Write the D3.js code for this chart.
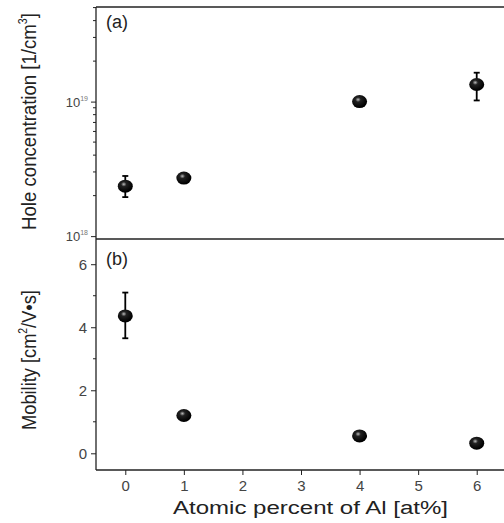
<!DOCTYPE html>
<html>
<head>
<meta charset="utf-8">
<script src="https://cdn.jsdelivr.net/npm/d3@7"></script>
<style>
  body { margin: 0; background: #fff; }
  svg { display: block; }
  text { font-family: Arial, "Liberation Sans", sans-serif; }
</style>
</head>
<body>
<div id="viz"></div>
<script>
// data
let alPercent = [0, 1, 4, 6];
let holeConc = [2.35e18, 2.7e18, 1.0e19, 1.34e19];
let holeLow = [1.95e18, 2.62e18, 0.96e19, 1.02e19];
let holeHigh = [2.8e18, 2.78e18, 1.04e19, 1.64e19];
let mobility = [4.36, 1.2, 0.55, 0.32];
let mobLow = [3.65, 1.15, 0.5, 0.28];
let mobHigh = [5.1, 1.25, 0.6, 0.36];
let xTicks = [0, 1, 2, 3, 4, 5, 6];
let mobTicks = [0, 2, 4, 6];
let holeTicks = [1e18, 1e19];

let width = 504, height = 523;
let left = 96, right = 506;
let topA = 7, bottomA = 239, bottomB = 470;

let svg = d3.select('#viz').append('svg')
    .attr('width', width)
    .attr('height', height);

let defs = svg.append('defs');
let grad = defs.append('radialGradient')
    .attr('id', 'ball')
    .attr('cx', '40%').attr('cy', '35%').attr('r', '60%');
grad.append('stop').attr('offset', '0%').attr('stop-color', '#bbb');
grad.append('stop').attr('offset', '30%').attr('stop-color', '#222');
grad.append('stop').attr('offset', '100%').attr('stop-color', '#000');

let xScale = d3.scaleLinear()
    .domain([-0.5, 6.5])
    .range([left, right]);

let yHole = d3.scaleLog()
    .domain([0.952e18, 5.05e19])
    .range([bottomA, topA]);

let yMob = d3.scaleLinear()
    .domain([-0.53, 6.8])
    .range([bottomB, bottomA]);

// frame lines
svg.append('line').attr('x1', left).attr('x2', width).attr('y1', topA).attr('y2', topA)
    .attr('stroke', '#222').attr('stroke-width', 1.3);
svg.append('line').attr('x1', left).attr('x2', width).attr('y1', bottomA).attr('y2', bottomA)
    .attr('stroke', '#222').attr('stroke-width', 1.3);

// top panel log axis
let minorHole = [];
for (let e = 18; e <= 19; e++) {
    for (let m = 2; m <= 9; m++) {
        let v = m * Math.pow(10, e);
        if (v <= 5.05e19) minorHole.push(v);
    }
}
let yHoleAxis = d3.axisLeft(yHole).tickValues(holeTicks).tickSize(5).tickFormat('');
let gA = svg.append('g')
    .attr('transform', 'translate(' + left + ',0)')
    .call(yHoleAxis);
gA.select('.domain').remove();
gA.selectAll('.tick line').attr('stroke', '#222');
svg.append('g')
    .attr('transform', 'translate(' + left + ',0)')
    .selectAll('line').data(minorHole).enter()
    .append('line')
    .attr('x1', -3).attr('x2', 0)
    .attr('y1', d => yHole(d)).attr('y2', d => yHole(d))
    .attr('stroke', '#222');

let holeLabels = svg.append('g');
holeTicks.forEach((v) => {
    let t = holeLabels.append('text')
        .attr('x', left - 8)
        .attr('y', yHole(v) + 5)
        .attr('text-anchor', 'end')
        .attr('fill', '#444')
        .attr('font-size', 13);
    t.append('tspan').text('10');
    t.append('tspan').attr('dy', -6).attr('font-size', 7).attr('fill', '#777').text(Math.round(Math.log10(v)));
});

// bottom panel axes
let yMobAxis = d3.axisLeft(yMob).tickValues(mobTicks).tickSize(5).tickFormat(d3.format('d'));
let gB = svg.append('g')
    .attr('transform', 'translate(' + left + ',0)')
    .call(yMobAxis);
gB.select('.domain').remove();
gB.selectAll('.tick line').attr('stroke', '#222');
gB.selectAll('.tick text')
    .attr('x', -9)
    .attr('fill', '#444')
    .attr('font-size', 15)
    .style('font-family', 'Arial, "Liberation Sans", sans-serif');
svg.append('g')
    .attr('transform', 'translate(' + left + ',0)')
    .selectAll('line').data([1, 3, 5]).enter()
    .append('line')
    .attr('x1', -3).attr('x2', 0)
    .attr('y1', d => yMob(d)).attr('y2', d => yMob(d))
    .attr('stroke', '#222');

let xAxis = d3.axisBottom(xScale).tickValues(xTicks).tickSize(5).tickFormat(d3.format('d'));
let gX = svg.append('g')
    .attr('transform', 'translate(0,' + bottomB + ')')
    .call(xAxis);
gX.select('.domain').remove();
gX.selectAll('.tick line').attr('stroke', '#222');
gX.selectAll('.tick text')
    .attr('y', 10)
    .attr('fill', '#444')
    .attr('font-size', 15)
    .style('font-family', 'Arial, "Liberation Sans", sans-serif');
svg.append('line').attr('x1', left).attr('x2', width).attr('y1', bottomB).attr('y2', bottomB)
    .attr('stroke', '#222').attr('stroke-width', 1.3);

// left axis line through both panels
svg.append('line').attr('x1', left).attr('x2', left).attr('y1', topA).attr('y2', bottomB)
    .attr('stroke', '#222').attr('stroke-width', 1.3);

// error bars
function errorBars(lo, hi, yScale) {
    let g = svg.append('g').attr('stroke', '#000').attr('stroke-width', 1.8);
    alPercent.forEach((x, i) => {
        if (Math.abs(yScale(lo[i]) - yScale(hi[i])) < 12) return;
        let cx = xScale(x);
        g.append('line').attr('x1', cx).attr('x2', cx)
            .attr('y1', yScale(lo[i])).attr('y2', yScale(hi[i]));
        g.append('line').attr('x1', cx - 3).attr('x2', cx + 3)
            .attr('y1', yScale(lo[i])).attr('y2', yScale(lo[i]));
        g.append('line').attr('x1', cx - 3).attr('x2', cx + 3)
            .attr('y1', yScale(hi[i])).attr('y2', yScale(hi[i]));
    });
}
errorBars(holeLow, holeHigh, yHole);
errorBars(mobLow, mobHigh, yMob);

// markers
function balls(values, yScale) {
    svg.append('g').selectAll('ellipse').data(values).enter()
        .append('ellipse')
        .attr('cx', (d, i) => xScale(alPercent[i]))
        .attr('cy', d => yScale(d))
        .attr('rx', 7.5)
        .attr('ry', 6.5)
        .attr('fill', 'url(#ball)');
}
balls(holeConc, yHole);
balls(mobility, yMob);

// panel labels
svg.append('text').attr('x', 106).attr('y', 28).attr('font-size', 18).attr('fill', '#222').text('(a)');
svg.append('text').attr('x', 106).attr('y', 265).attr('font-size', 18).attr('fill', '#222').text('(b)');

// squeeze or stretch a title along its own direction to a target length
function fitTitle(sel, cx, cy, angle, target) {
    let w = sel.node().getBBox().width;
    sel.attr('transform', 'translate(' + cx + ',' + cy + ') rotate(' + angle + ') scale(' + (target / w) + ',1)');
}

// axis titles
let yTitleA = svg.append('text')
    .attr('text-anchor', 'middle')
    .attr('font-size', 21)
    .attr('fill', '#222');
yTitleA.append('tspan').text('Hole concentration [1/cm');
yTitleA.append('tspan').attr('dy', -9).attr('font-size', 12).text('3');
yTitleA.append('tspan').attr('dy', 9).text(']');
fitTitle(yTitleA, 36, 121.5, -90, 217);

let yTitleB = svg.append('text')
    .attr('text-anchor', 'middle')
    .attr('font-size', 21)
    .attr('fill', '#222');
yTitleB.append('tspan').text('Mobility [cm');
yTitleB.append('tspan').attr('dy', -9).attr('font-size', 12).text('2');
yTitleB.append('tspan').attr('dy', 9).text('/V\u2022s]');
fitTitle(yTitleB, 36, 360, -90, 140);

let xTitle = svg.append('text')
    .attr('text-anchor', 'middle')
    .attr('font-size', 19)
    .attr('fill', '#222')
    .text('Atomic percent of Al [at%]');
fitTitle(xTitle, 310.5, 514, 0, 275);
</script>
</body>
</html>
